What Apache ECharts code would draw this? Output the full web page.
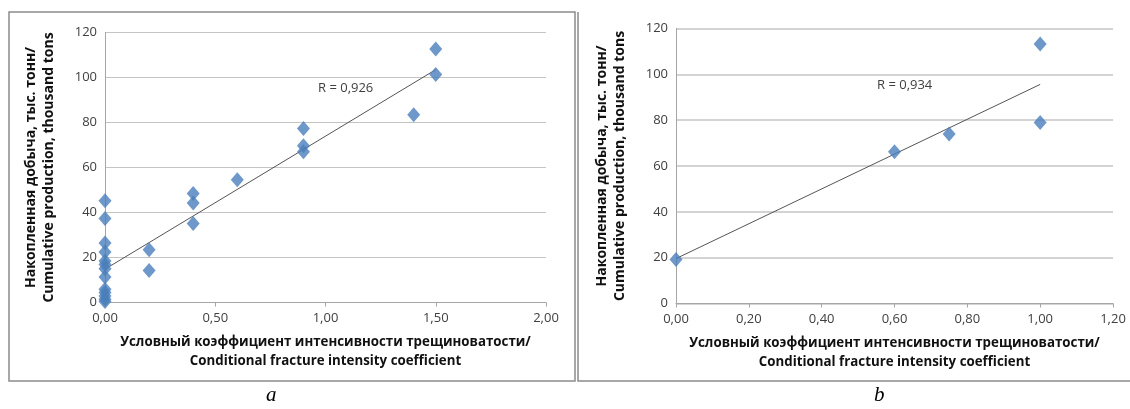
<!DOCTYPE html>
<html>
<head>
<meta charset="utf-8">
<script src="https://cdn.jsdelivr.net/npm/echarts@6/dist/echarts.min.js"></script>
<style>html,body{margin:0;padding:0;background:#fff;}#c{width:1130px;height:409px;}</style>
</head>
<body>
<div id="c"></div>
<script>
// Panel a data
const aX = [0,0,0,0,0,0,0,0,0,0,0,0,0,0.2,0.2,0.4,0.4,0.4,0.6,0.9,0.9,0.9,1.4,1.5,1.5];
const aY = [45.2,37.3,26.4,22.4,18.4,16.9,15,11.3,5.9,4.4,2.9,1.5,0.4,23.4,14.2,48.5,44.2,35.1,54.6,77.3,69.7,67,83.5,112.7,101.3];
const aTrendX = [0, 1.5];
const aTrendY = [14.8, 103.5];
const aXTicks = {min:0, max:2, interval:0.5};
// Panel b data
const bX = [0, 0.6, 0.75, 1.0, 1.0];
const bY = [19.2, 66.2, 74.0, 113.2, 79.0];
const bTrendX = [0, 1.0];
const bTrendY = [19.6, 95.6];
const bXTicks = {min:0, max:1.2, interval:0.2};
const yTicks = {min:0, max:120, interval:20};
const yTitle = 'Накопленная добыча, тыс. тонн/\nCumulative production, thousand tons';
const xTitle = 'Условный коэффициент интенсивности трещиноватости/\nConditional fracture intensity coefficient';
const rA = 'R = 0,926';
const rB = 'R = 0,934';

const FONT = 'Open Sans';
const pts = (xs, ys) => xs.map((x, i) => [x, ys[i]]);
function xAxis(idx, t) {
  return {
    type:'value', gridIndex:idx, min:t.min, max:t.max, interval:t.interval,
    name:xTitle, nameLocation:'middle', nameGap:30,
    nameTextStyle:{fontFamily:FONT, fontWeight:'bold', fontSize:13.3, color:'#111', lineHeight:19},
    axisLine:{show:true, lineStyle:{color:'#a6a6a6', width:1}},
    axisTick:{show:true, length:4, lineStyle:{color:'#a6a6a6'}},
    splitLine:{show:false},
    axisLabel:{fontFamily:FONT, fontSize:13, color:'#404040', margin:9,
      formatter:v=>v.toFixed(2).replace('.', ',')}
  };
}
function yAxis(idx, gridW) {
  return {
    type:'value', gridIndex:idx, min:yTicks.min, max:yTicks.max, interval:yTicks.interval,
    name:yTitle, nameLocation:'middle', nameGap:47, nameRotate:90,
    nameTextStyle:{fontFamily:FONT, fontWeight:'bold', fontSize:14, color:'#111', lineHeight:18},
    axisLine:{show:true, lineStyle:{color:'#a6a6a6', width:1}},
    axisTick:{show:false},
    splitLine:{show:true, lineStyle:{color:'#c4c4c4', width:gridW}},
    axisLabel:{fontFamily:FONT, fontSize:13, color:'#404040', margin:8}
  };
}
const diamond = {type:'scatter', symbol:'diamond', symbolSize:[13,15],
  itemStyle:{color:'#4a7ebb'}, z:3};
const trend = {type:'line', symbol:'none', lineStyle:{color:'#555', width:1}, z:2, silent:true};

const chart = echarts.init(document.getElementById('c'));
chart.setOption({
  animation:false,
  backgroundColor:'#fff',
  grid:[
    {left:105, top:32.5, width:441, height:270},
    {left:676, top:28.5, width:437, height:275}
  ],
  xAxis:[xAxis(0, aXTicks), xAxis(1, bXTicks)],
  yAxis:[yAxis(0, 1), yAxis(1, 1.5)],
  series:[
    Object.assign({}, trend, {xAxisIndex:0, yAxisIndex:0, data:pts(aTrendX, aTrendY)}),
    Object.assign({}, diamond, {xAxisIndex:0, yAxisIndex:0, data:pts(aX, aY)}),
    Object.assign({}, trend, {xAxisIndex:1, yAxisIndex:1, data:pts(bTrendX, bTrendY)}),
    Object.assign({}, diamond, {xAxisIndex:1, yAxisIndex:1, data:pts(bX, bY)})
  ],
  graphic:[
    {type:'rect', shape:{x:9, y:12, width:566, height:369}, style:{fill:null, stroke:'#8c8c8c', lineWidth:1.5}, silent:true},
    {type:'polyline', shape:{points:[[578,12],[578,381],[1130,381]]}, style:{fill:null, stroke:'#8c8c8c', lineWidth:1.5}, silent:true},
    {type:'text', left:318, top:82, style:{text:rA, fontFamily:FONT, fontSize:13, fill:'#404040'}},
    {type:'text', left:877, top:79, style:{text:rB, fontFamily:FONT, fontSize:13, fill:'#404040'}},
    {type:'text', left:266, top:385, style:{text:'a', fontFamily:'Liberation Serif', fontStyle:'italic', fontSize:21, fill:'#000'}},
    {type:'text', left:874, top:385, style:{text:'b', fontFamily:'Liberation Serif', fontStyle:'italic', fontSize:21, fill:'#000'}}
  ]
});
</script>
</body>
</html>
